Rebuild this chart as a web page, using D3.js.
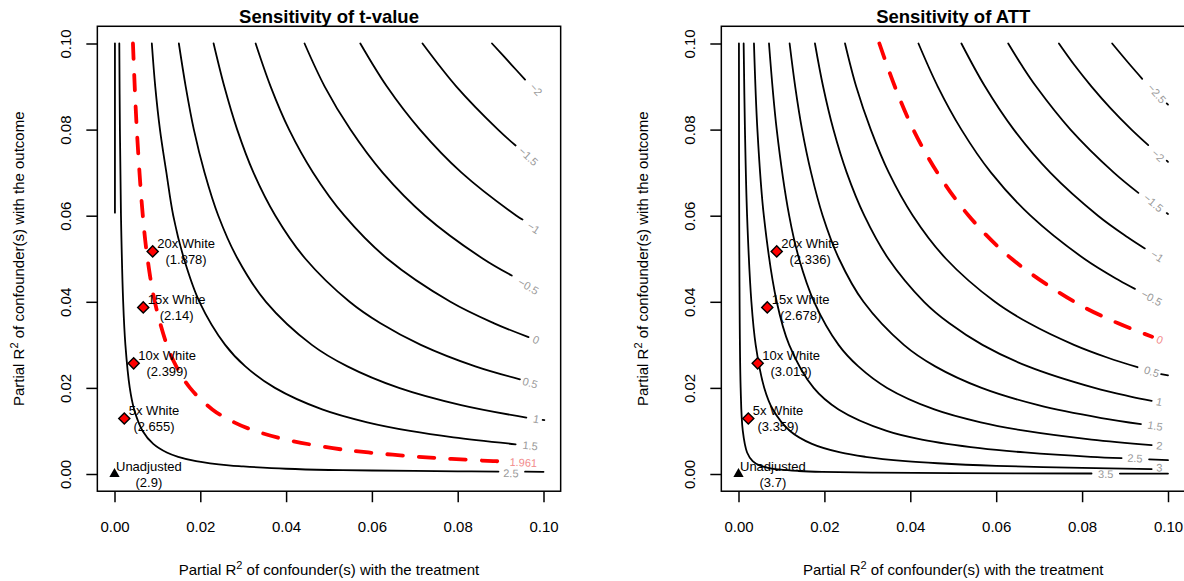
<!DOCTYPE html>
<html><head><meta charset="utf-8">
<script src="https://cdn.jsdelivr.net/npm/d3@7"></script>
<style>
body{margin:0;background:#fff}
text{font-family:"Liberation Sans",Arial,Helvetica,sans-serif}
</style>
</head><body>
<svg id="chart" width="1184" height="581"></svg>
<script>
// ---------------- data ----------------
const axisTicks = [0, 0.02, 0.04, 0.06, 0.08, 0.10];
const tickLabels = ["0.00", "0.02", "0.04", "0.06", "0.08", "0.10"];
const panelTitles = ["Sensitivity of t-value", "Sensitivity of ATT"];
const xTitle = ["Partial R", "2", " of confounder(s) with the treatment"];
const yTitle = ["Partial R", "2", " of confounder(s) with the outcome"];

const benchNames = ["Unadjusted", "5x White", "10x White", "15x White", "20x White"];
const benchR2dz = [0, 0.00228, 0.00447, 0.0067, 0.0089];
const benchR2yz = [0, 0.0129, 0.0257, 0.0387, 0.0517];
const benchT = ["2.9", "2.655", "2.399", "2.14", "1.878"];
const benchATT = ["3.7", "3.359", "3.019", "2.678", "2.336"];

// contour lines of the adjusted t-value ([R2dz, R2yz])
const tValueContours = [
  {text: "\u22122", pts: [[0.0880,0.1],[0.0926,0.095],[0.0957,0.0916]], label: [0.0983,0.0893]},
  {text: "\u22121.5", pts: [[0.0718,0.1],[0.0797,0.09],[0.0894,0.08],[0.0935,0.0763]], label: [0.0965,0.0738]},
  {text: "\u22121", pts: [[0.0573,0.1],[0.0635,0.09],[0.0712,0.08],[0.0809,0.07],[0.0937,0.06],[0.0951,0.0591]], label: [0.0977,0.0572]},
  {text: "\u22120.5", pts: [[0.0443,0.1],[0.0490,0.09],[0.0550,0.08],[0.0625,0.07],[0.0724,0.06],[0.0859,0.05],[0.0926,0.0461]], label: [0.0965,0.0436]},
  {text: "0", pts: [[0.0329,0.1],[0.0364,0.09],[0.0407,0.08],[0.0463,0.07],[0.0536,0.06],[0.0636,0.05],[0.0783,0.04],[0.0885,0.035],[0.0965,0.0318]], label: [0.0983,0.0312]},
  {text: "0.5", pts: [[0.0231,0.1],[0.0256,0.09],[0.0286,0.08],[0.0324,0.07],[0.0375,0.06],[0.0445,0.05],[0.0548,0.04],[0.0620,0.035],[0.0714,0.03],[0.0841,0.025],[0.0945,0.0220]], label: [0.0969,0.0212]},
  {text: "1", pts: [[0.0150,0.1],[0.0166,0.09],[0.0185,0.08],[0.0210,0.07],[0.0242,0.06],[0.0287,0.05],[0.0353,0.04],[0.0460,0.03],[0.0543,0.025],[0.0663,0.02],[0.0808,0.016],[0.0960,0.0131]], label: [0.0983,0.0128], tail: [[0.0998,0.01258],[0.1002,0.0125]]},
  {text: "1.5", pts: [[0.0087,0.1],[0.0095,0.09],[0.0106,0.08],[0.0121,0.07],[0.0137,0.06],[0.0162,0.05],[0.0198,0.04],[0.0258,0.03],[0.0305,0.025],[0.0374,0.02],[0.0484,0.015],[0.0589,0.012],[0.0689,0.01],[0.0790,0.0085],[0.0935,0.0069]], label: [0.0969,0.0066]},
  {text: "2.5", pts: [[0.00112,0.1],[0.00126,0.08],[0.00151,0.06],[0.00202,0.04],[0.00254,0.03],[0.00356,0.02],[0.00458,0.015],[0.00656,0.01],[0.00903,0.007],[0.01219,0.005],[0.01484,0.004],[0.0190,0.003],[0.0266,0.002],[0.0300,0.00176],[0.0400,0.00122],[0.0500,0.00093],[0.0600,0.00081],[0.0800,0.00063],[0.0895,0.00057]], label: [0.0924,0.0002], tail: [[0.0957,0.00053],[0.1,0.0005]]},
  {text: "", pts: [[0.0001,0.1],[0.0001,0.0607]]},
  {text: "1.961", thr: true, pts: [[0.0043,0.1],[0.0052,0.08],[0.0066,0.06],[0.0077,0.05],[0.0094,0.04],[0.0122,0.03],[0.0144,0.025],[0.0176,0.02],[0.0228,0.015],[0.0279,0.012],[0.0328,0.01],[0.0399,0.008],[0.0509,0.006],[0.0592,0.005],[0.0708,0.004],[0.0786,0.0035],[0.0883,0.003],[0.0906,0.0029]], label: [0.0953,0.0027]}
];

// contour lines of the adjusted ATT estimate
const attContours = [
  {text: "\u22122.5", pts: [[0.0870,0.1],[0.0912,0.095],[0.0940,0.0918]], label: [0.0974,0.0884], tail: [[0.0997,0.0861],[0.1,0.0858]]},
  {text: "\u22122", pts: [[0.0746,0.1],[0.0782,0.095],[0.0822,0.09],[0.0866,0.085],[0.0915,0.08],[0.0954,0.0764]], label: [0.0977,0.0740], tail: [[0.0997,0.0728],[0.1,0.0725]]},
  {text: "\u22121.5", pts: [[0.0628,0.1],[0.0659,0.095],[0.0693,0.09],[0.0773,0.08],[0.0874,0.07],[0.0931,0.0653]], label: [0.0966,0.0630], tail: [[0.0997,0.0606],[0.1,0.0604]]},
  {text: "\u22121", pts: [[0.0519,0.1],[0.0574,0.09],[0.0641,0.08],[0.0726,0.07],[0.0837,0.06],[0.0906,0.055],[0.0946,0.0524]], label: [0.0975,0.0506]},
  {text: "\u22120.5", pts: [[0.0419,0.1],[0.0464,0.09],[0.0519,0.08],[0.0588,0.07],[0.0680,0.06],[0.0805,0.05],[0.0886,0.045],[0.0923,0.0430]], label: [0.0962,0.0409]},
  {text: "0.5", pts: [[0.0248,0.1],[0.0274,0.09],[0.0308,0.08],[0.0350,0.07],[0.0406,0.06],[0.0483,0.05],[0.0597,0.04],[0.0677,0.035],[0.0781,0.03],[0.0860,0.027],[0.0929,0.0248]], label: [0.0962,0.0238], tail: [[0.0984,0.0232],[0.1,0.0229]]},
  {text: "1", pts: [[0.0178,0.1],[0.0197,0.09],[0.0221,0.08],[0.0252,0.07],[0.0293,0.06],[0.0349,0.05],[0.0432,0.04],[0.0491,0.035],[0.0568,0.03],[0.0674,0.025],[0.0829,0.02],[0.0913,0.018],[0.0962,0.0170]], label: [0.0980,0.0168]},
  {text: "1.5", pts: [[0.0119,0.1],[0.0132,0.09],[0.0148,0.08],[0.0169,0.07],[0.0196,0.06],[0.0234,0.05],[0.0291,0.04],[0.0385,0.03],[0.0458,0.025],[0.0566,0.02],[0.0698,0.016],[0.0845,0.013],[0.0937,0.0116]], label: [0.0970,0.0112]},
  {text: "2", pts: [[0.0071,0.1],[0.0089,0.08],[0.0118,0.06],[0.0141,0.05],[0.0176,0.04],[0.0233,0.03],[0.0279,0.025],[0.0346,0.02],[0.0456,0.015],[0.0564,0.012],[0.0669,0.01],[0.0822,0.008],[0.0962,0.0067]], label: [0.0980,0.0066]},
  {text: "2.5", pts: [[0.0036,0.1],[0.0044,0.08],[0.0059,0.06],[0.0089,0.04],[0.0118,0.03],[0.0175,0.02],[0.0233,0.015],[0.0345,0.01],[0.0427,0.008],[0.0562,0.006],[0.0667,0.005],[0.0820,0.004],[0.0892,0.0037]], label: [0.0923,0.0037], tail: [[0.0956,0.0034],[0.1,0.0032]]},
  {text: "3", pts: [[0.0012,0.1],[0.0015,0.08],[0.0020,0.06],[0.0030,0.04],[0.0040,0.03],[0.0060,0.02],[0.0080,0.015],[0.0120,0.01],[0.0171,0.007],[0.0237,0.005],[0.0295,0.004],[0.0389,0.003],[0.0464,0.0025],[0.0600,0.0019],[0.0800,0.0014],[0.0962,0.00114]], label: [0.0980,0.0015]},
  {text: "3.5", pts: [[0.0001,0.1],[0.0002,0.05],[0.0005,0.02],[0.0010,0.01],[0.0020,0.005],[0.0033,0.003],[0.0049,0.002],[0.0066,0.0015],[0.0098,0.001],[0.0140,0.0007],[0.0195,0.0005],[0.0320,0.0003],[0.0500,0.0002],[0.0822,0.00012]], label: [0.0855,0.0000], tail: [[0.0888,0.00011],[0.1,0.0001]]},
  {text: "0", thr: true, pts: [[0.0328,0.1],[0.0364,0.09],[0.0407,0.08],[0.0463,0.07],[0.0536,0.06],[0.0636,0.05],[0.0782,0.04],[0.0884,0.035],[0.0963,0.0319]], label: [0.0981,0.0312]}
];

// ---------------- drawing ----------------
const svg = d3.select("#chart");
const panels = [
  {title: panelTitles[0], contours: tValueContours, values: benchT, xr: [114.5, 543.5]},
  {title: panelTitles[1], contours: attContours, values: benchATT, xr: [738.5, 1168]}
];
const yRange = [474, 43.5];
const FONT = 15;

function addSupText(sel, parts) {
  sel.append("tspan").text(parts[0]);
  sel.append("tspan").attr("dy", -6).attr("font-size", 11).text(parts[1]);
  sel.append("tspan").attr("dy", 6).text(parts[2]);
}

panels.forEach((p, i) => {
  const x = d3.scaleLinear().domain([0, 0.1]).range(p.xr);
  const y = d3.scaleLinear().domain([0, 0.1]).range(yRange);
  const bx0 = x(-0.004), bx1 = x(0.104), by0 = y(0.104), by1 = y(-0.004);
  const g = svg.append("g");

  const clipId = "clip" + i;
  svg.append("clipPath").attr("id", clipId).append("rect")
    .attr("x", bx0).attr("y", by0).attr("width", bx1 - bx0).attr("height", by1 - by0);

  const line = d3.line().x(d => x(d[0])).y(d => y(d[1])).curve(d3.curveCatmullRom.alpha(0.5));
  const straight = d3.line().x(d => x(d[0])).y(d => y(d[1]));
  const cg = g.append("g").attr("clip-path", `url(#${clipId})`);

  const ordered = p.contours.filter(c => !c.thr).concat(p.contours.filter(c => c.thr));
  ordered.forEach(c => {
    const path = cg.append("path").attr("d", line(c.pts)).attr("fill", "none")
      .attr("stroke-linecap", "round").attr("stroke-linejoin", "round");
    if (c.thr) {
      path.attr("stroke", "#ff0000").attr("stroke-width", 3.8).attr("stroke-dasharray", "15.5 16");
    } else {
      path.attr("stroke", "#000").attr("stroke-width", 1.8);
    }
    if (c.tail) {
      cg.append("path").attr("d", straight(c.tail)).attr("fill", "none")
        .attr("stroke", c.thr ? "#ff0000" : "#000").attr("stroke-width", 1.8)
        .attr("stroke-linecap", "round");
    }
    if (c.label && c.text) {
      const n = c.pts.length;
      const a = c.pts[n - 2], b = c.pts[n - 1];
      const ang = Math.atan2(y(b[1]) - y(a[1]), x(b[0]) - x(a[0])) * 180 / Math.PI;
      g.append("text")
        .attr("transform", `translate(${x(c.label[0])},${y(c.label[1])}) rotate(${ang})`)
        .attr("text-anchor", "middle").attr("dominant-baseline", "central")
        .attr("font-size", 11)
        .attr("fill", c.thr ? "#f28c8c" : "#9a9a9a")
        .text(c.text);
    }
  });

  // box
  g.append("rect").attr("x", bx0).attr("y", by0).attr("width", bx1 - bx0).attr("height", by1 - by0)
    .attr("fill", "none").attr("stroke", "#000").attr("stroke-width", 1.5);

  // x axis
  const xa = g.append("g").attr("transform", `translate(0,${by1})`)
    .call(d3.axisBottom(x).tickValues(axisTicks).tickFormat((d, j) => tickLabels[j]).tickSize(11).tickPadding(19));
  xa.select(".domain").remove();
  xa.selectAll("line").attr("stroke", "#000").attr("stroke-width", 1.5);
  xa.selectAll("text").attr("font-size", FONT).attr("fill", "#000")
    .attr("font-family", "Liberation Sans, Arial, sans-serif");

  // y axis
  const ya = g.append("g").attr("transform", `translate(${bx0},0)`)
    .call(d3.axisLeft(y).tickValues(axisTicks).tickFormat((d, j) => tickLabels[j]).tickSize(11));
  ya.select(".domain").remove();
  ya.selectAll("line").attr("stroke", "#000").attr("stroke-width", 1.5);
  ya.selectAll("text").attr("x", 0).attr("dy", 0).attr("text-anchor", "middle")
    .attr("transform", "translate(-26,0) rotate(-90)")
    .attr("font-size", FONT).attr("fill", "#000")
    .attr("font-family", "Liberation Sans, Arial, sans-serif");

  // titles
  g.append("text").attr("x", (bx0 + bx1) / 2).attr("y", 22.7).attr("text-anchor", "middle")
    .attr("font-size", 18.5).attr("font-weight", "bold").text(p.title);
  addSupText(g.append("text").attr("x", (bx0 + bx1) / 2).attr("y", 574.5)
    .attr("text-anchor", "middle").attr("font-size", FONT), xTitle);
  addSupText(g.append("text")
    .attr("transform", `translate(${bx0 - 73},${(by0 + by1) / 2}) rotate(-90)`)
    .attr("text-anchor", "middle").attr("font-size", FONT), yTitle);

  // benchmarks
  benchNames.forEach((nm, j) => {
    const px = x(benchR2dz[j]), py = y(benchR2yz[j]);
    if (j === 0) {
      g.append("path").attr("d", d3.symbol(d3.symbolTriangle, 46)())
        .attr("transform", `translate(${px},${py})`).attr("fill", "#000");
    } else {
      g.append("path").attr("d", d3.symbol(d3.symbolSquare, 62)())
        .attr("transform", `translate(${px},${py}) rotate(45)`)
        .attr("fill", "#ff0000").attr("stroke", "#000").attr("stroke-width", 1.4);
    }
    const t1 = g.append("text").attr("y", py - 7.5).attr("dominant-baseline", "central")
      .attr("font-size", 13).attr("text-anchor", "middle").text(nm);
    const t2 = g.append("text").attr("y", py + 8.5).attr("dominant-baseline", "central")
      .attr("font-size", 13).attr("text-anchor", "middle").text(`(${p.values[j]})`);
    const w = Math.max(t1.node().getComputedTextLength(), t2.node().getComputedTextLength());
    const left = px + (j === 0 ? 1.5 : 4.5);
    t1.attr("x", left + w / 2);
    t2.attr("x", left + w / 2);
  });
});
</script>
</body></html>
